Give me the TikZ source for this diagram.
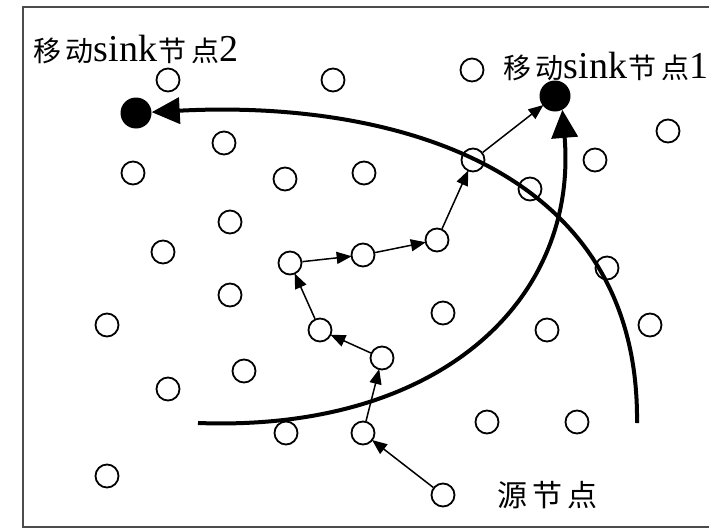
\documentclass[tikz,border=0pt]{standalone}
\usepackage{fontspec}
\setmainfont{Liberation Serif}
\newfontfamily\cjk{Noto Sans CJK SC}
\usetikzlibrary{arrows.meta}

\tikzset{
  sensor/.style={circle, draw=black, line width=1.8pt, minimum size=23pt, inner sep=0pt},
  sinknode/.style={circle, fill=black, minimum size=31pt, inner sep=0pt},
  hop/.style={line width=1.5pt, -{Triangle[length=15pt,width=12pt]}, shorten >=-1pt},
  track/.style={line width=4pt, -{Triangle[length=28pt,width=26pt]}},
  lbl/.style={inner sep=0pt, anchor=west},
}
\newcommand{\zh}[2]{{\cjk\fontsize{#1}{#1}\selectfont #2}}
\newcommand{\lt}[1]{{\fontsize{38}{38}\selectfont #1}}

\begin{document}
\begin{tikzpicture}[x=1pt, y=-1pt]
  \useasboundingbox (0,0) rectangle (709,530);

  % outer frame (right side runs past the page edge)
  \draw[line width=1.6pt, black!70] (760,7) -- (23,7) -- (23,527) -- (760,527);

  % ordinary sensor nodes
  \foreach \x/\y [count=\i] in {
    168/80, 333/80, 472/70, 224/143, 133/173, 285/179, 364/173,
    530/189, 595/160, 668/131, 230/222, 163/252, 607/268, 230/295,
    107/325, 443/313, 547/330, 650/325, 244/371, 168/389, 286/433,
    487/422, 577/422, 107/476}
    \node[sensor] (n\i) at (\x,\y) {};

  % nodes on the relay path
  \node[sensor] (src) at (443,495) {};
  \node[sensor] (r1) at (363,433) {};
  \node[sensor] (r2) at (382,358) {};
  \node[sensor] (r3) at (320,330) {};
  \node[sensor] (r4) at (290,263) {};
  \node[sensor] (r5) at (363,255) {};
  \node[sensor] (r6) at (437,240) {};
  \node[sensor] (r7) at (473,160) {};

  % mobile sinks
  \node[sinknode] (s1) at (555,96) {};
  \node[sinknode] (s2) at (136,113) {};

  % multi-hop route from the source to sink 1
  \draw[hop] (src) -- (r1);
  \draw[hop] (r1) -- (r2);
  \draw[hop] (r2) -- (r3);
  \draw[hop] (r3) -- (r4);
  \draw[hop] (r4) -- (r5);
  \draw[hop] (r5) -- (r6);
  \draw[hop] (r6) -- (r7);
  \draw[hop] (r7) -- (s1);

  % movement tracks of the sinks
  \coordinate (t1) at (198,423);
  \coordinate (t2) at (637,423);
  \draw[track] (t1) .. controls (440,432) and (578,300) .. (s1.-62);
  \draw[track] (t2) .. controls (640,160) and (380,100) .. (s2);

  % labels
  \node[lbl] (l2) at (33,49) {\zh{28}{移\,动}\lt{sink}\,\zh{28}{节\,点}\lt{2}};
  \node[lbl] (l1) at (503,66) {\zh{28}{移\,动}\lt{sink}\,\zh{28}{节\,点}\lt{1}};
  \node[lbl] (ls) at (497,495) {\zh{30}{源\,节\,点}};
\end{tikzpicture}
\end{document}
